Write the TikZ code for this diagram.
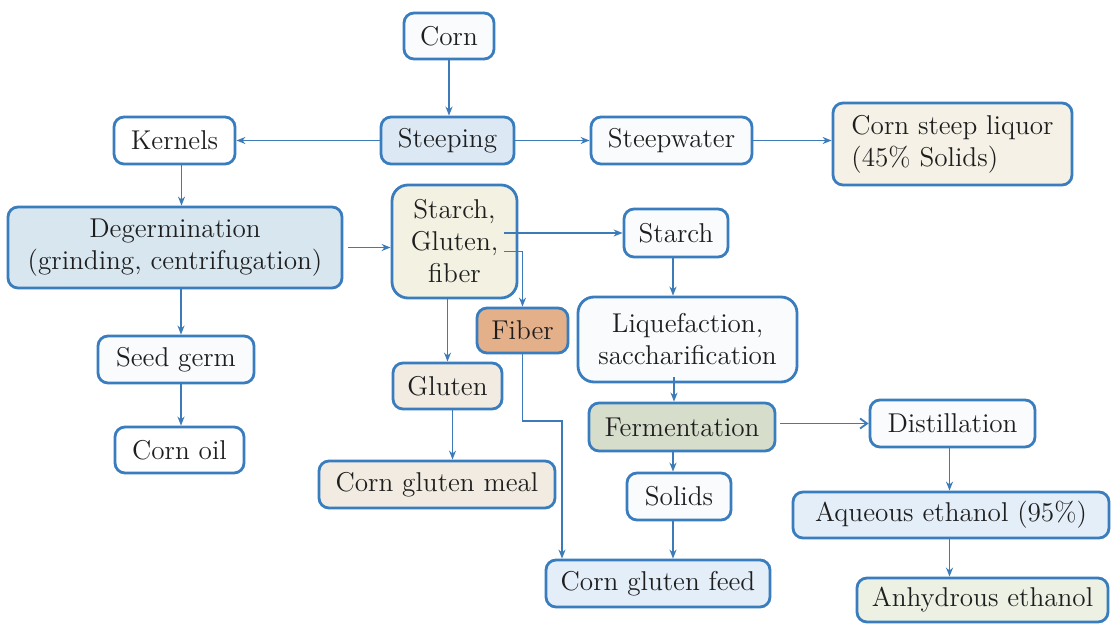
\documentclass[tikz,border=0pt]{standalone}
\usetikzlibrary{arrows.meta}
\definecolor{bord}{HTML}{3A7DBE}
\definecolor{conncol}{HTML}{3D7BB8}
\definecolor{txt}{HTML}{1E1E1E}
\definecolor{fblue}{HTML}{DCE9F5}
\definecolor{fdeg}{HTML}{D8E6F0}
\definecolor{fcream}{HTML}{F5F1E6}
\definecolor{fsgf}{HTML}{F3F1E2}
\definecolor{fwhite}{HTML}{FAFBFC}
\definecolor{fferm}{HTML}{D6DDCB}
\definecolor{flblue}{HTML}{E4EEF8}
\definecolor{fanh}{HTML}{EDF1E3}
\definecolor{fglu}{HTML}{F1EBE2}
\definecolor{ffiber}{HTML}{E3B08A}
\begin{document}
\begin{tikzpicture}[x=0.5pt,y=-0.5pt,
  box/.style={draw=bord, line width=1.4pt, rounded corners=5pt, align=center,
    inner sep=0pt, text=txt, font=\fontsize{13.6}{16}\selectfont},
  conn/.style={draw=conncol, line width=0.9pt, -{Stealth[length=4.5pt,width=3.5pt]}},
  connopen/.style={draw=conncol, line width=0.9pt, -{Straight Barb[length=3.5pt,width=5pt]}}]
\fill[white] (0,0) rectangle (1111,624);
\useasboundingbox (0,0) rectangle (1111,624);

\node[box, fill=fwhite, minimum width=45pt, minimum height=23pt] (corn) at (449,36) {Corn};
\node[box, fill=fblue, minimum width=66.5pt, minimum height=23.5pt] (steeping) at (447.5,140.5) {Steeping};
\node[box, fill=white, minimum width=60.5pt, minimum height=23.5pt] (kernels) at (174.5,140.5) {Kernels};
\node[box, fill=fwhite, minimum width=80.5pt, minimum height=23.5pt] (steepwater) at (671.5,140.5) {Steepwater};
\node[box, fill=fcream, minimum width=119.5pt, minimum height=41pt, align=left] (csl) at (952.5,144) {Corn steep liquor\\(45\% Solids)};
\node[box, fill=fdeg, minimum width=167pt, minimum height=40.5pt] (degerm) at (175,247.5) {Degermination\\(grinding, centrifugation)};
\node[box, fill=fsgf, minimum width=62.5pt, minimum height=56.5pt, rounded corners=8pt] (sgf) at (454.5,241.5) {Starch,\\Gluten,\\fiber};
\node[box, fill=fwhite, minimum width=52pt, minimum height=24pt] (starch) at (676,233) {Starch};
\node[box, fill=ffiber, minimum width=45.5pt, minimum height=22.5pt] (fiber) at (522.5,330.5) {Fiber};
\node[box, fill=fwhite, minimum width=109.5pt, minimum height=42.5pt, rounded corners=8pt] (liq) at (687.5,339.5) {Liquefaction,\\saccharification};
\node[box, fill=fferm, minimum width=93pt, minimum height=24pt] (ferm) at (682,427) {Fermentation};
\node[box, fill=fwhite, minimum width=82.5pt, minimum height=23.5pt] (distil) at (952.5,423.5) {Distillation};
\node[box, fill=fwhite, minimum width=52pt, minimum height=23.5pt] (solids) at (679,496.5) {Solids};
\node[box, fill=flblue, minimum width=112pt, minimum height=23.5pt] (cgf) at (658,583.5) {Corn gluten feed};
\node[box, fill=flblue, minimum width=158pt, minimum height=23pt] (aqueous) at (951,515) {Aqueous ethanol (95\%)};
\node[box, fill=fanh, minimum width=125.5pt, minimum height=22pt] (anh) at (982.5,600) {Anhydrous ethanol};
\node[box, fill=fwhite, minimum width=78pt, minimum height=23.5pt] (seedgerm) at (176,359.5) {Seed germ};
\node[box, fill=white, minimum width=64.5pt, minimum height=23pt] (cornoil) at (179.5,450) {Corn oil};
\node[box, fill=fglu, minimum width=54.5pt, minimum height=23pt] (gluten) at (447.5,386) {Gluten};
\node[box, fill=fglu, minimum width=118pt, minimum height=23.5pt] (cgm) at (437,484.5) {Corn gluten meal};

\coordinate (fbend) at (562,421);

\draw[conn] (corn.south) -- (corn.south |- steeping.north);
\draw[conn] (steeping.west) -- (kernels.east);
\draw[conn] (steeping.east) -- (steepwater.west);
\draw[conn] (steepwater.east) -- (steepwater.east -| csl.west);
\draw[conn] ([xshift=3.5pt]kernels.south) -- ([xshift=3.5pt]kernels.south |- degerm.north);
\draw[conn, shorten <=2.5pt] (degerm.east) -- (degerm.east -| sgf.west);
\draw[conn] ([xshift=-7pt]sgf.east |- starch.west) -- (starch.west);
\draw[conn] ([xshift=-7pt,yshift=-5pt]sgf.east) -| (fiber.north);
\draw[conn] (gluten.north |- sgf.south) -- (gluten.north);
\draw[conn] ([xshift=2.5pt]gluten.south) -- ([xshift=2.5pt]gluten.south |- cgm.north);
\draw[conn] (fiber.south) |- (fbend) -- (fbend |- cgf.north);
\draw[conn] ([xshift=-1.5pt]starch.south) -- ([xshift=-1.5pt]starch.south |- liq.north);
\draw[conn] ([xshift=-1pt,yshift=3pt]starch.south |- liq.south) -- ([xshift=-1pt]starch.south |- ferm.north);
\draw[conn] ([xshift=-1.5pt]starch.south |- ferm.south) -- ([xshift=-1.5pt]starch.south |- solids.north);
\draw[conn] ([xshift=-1.5pt]starch.south |- solids.south) -- ([xshift=-1.5pt]starch.south |- cgf.north);
\draw[connopen, shorten <=2pt] (ferm.east |- distil.west) -- (distil.west);
\draw[conn] ([xshift=-1.5pt]distil.south) -- ([xshift=-1.5pt]distil.south |- aqueous.north);
\draw[conn] ([xshift=-1.5pt]distil.south |- aqueous.south) -- ([xshift=-1.5pt]distil.south |- anh.north);
\draw[conn] ([xshift=3pt]degerm.south) -- ([xshift=3pt]degerm.south |- seedgerm.north);
\draw[conn] ([xshift=3pt]degerm.south |- seedgerm.south) -- ([xshift=3pt]degerm.south |- cornoil.north);
\end{tikzpicture}
\end{document}
